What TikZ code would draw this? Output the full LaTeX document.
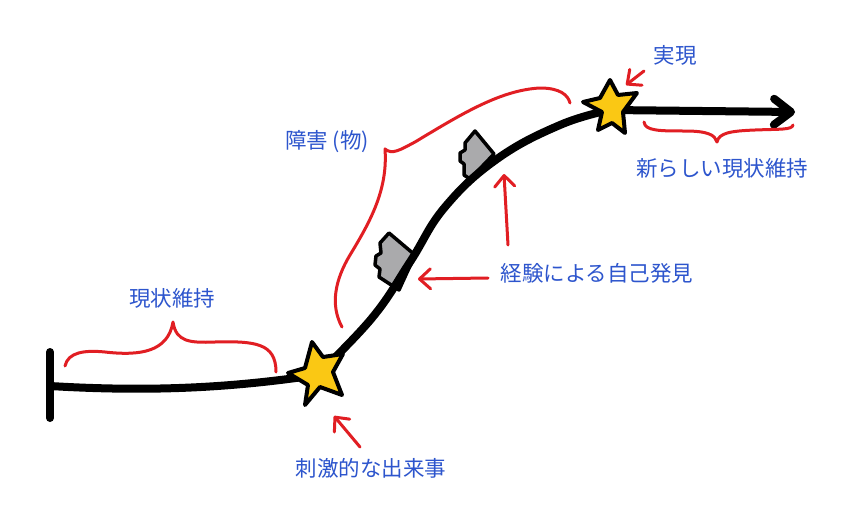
\documentclass[tikz,border=0pt]{standalone}
\usepackage{fontspec}
\newfontfamily\jpfont{Noto Sans CJK JP}
\usetikzlibrary{arrows.meta}
\definecolor{redpen}{RGB}{225,30,35}
\definecolor{bluetext}{RGB}{45,85,205}
\definecolor{staryellow}{RGB}{250,200,20}
\definecolor{blockgray}{RGB}{170,170,172}
\begin{document}
\begin{tikzpicture}[x=1pt,y=-1pt,
  mainline/.style={line width=8pt, line cap=round, line join=round, black},
  starshape/.style={draw=black, line width=4pt, line join=round, fill=staryellow},
  blockshape/.style={draw=black, line width=3.5pt, line join=round, fill=blockgray},
  redline/.style={draw=redpen, line width=3pt, line cap=round, line join=round},
  redarrow/.style={redline, -{Straight Barb[length=11pt,width=20pt,line cap=round,line join=round]}},
  jplabel/.style={text=bluetext, font=\jpfont\fontsize{21.5}{26}\selectfont, inner sep=0pt}
]
\fill[white] (0,0) rectangle (860,522);
\useasboundingbox (0,0) rectangle (860,522);

% key points
\coordinate (s1) at (317,375);
\coordinate (s2) at (610,110);
\coordinate (bartop) at (50,352);
\coordinate (barbot) at (50,418);
\coordinate (linestart) at (50,386);
\coordinate (arrowend) at (795,112);

% labels
\node[jplabel] (lblA) at (172,298) {現状維持};
\node[jplabel] (lblB) at (327,142) {障害 (物)};
\node[jplabel] (lblC) at (675,55) {実現};
\node[jplabel] (lblD) at (722,168) {新らしい現状維持};
\node[jplabel] (lblE) at (371,468) {刺激的な出来事};
\node[jplabel] (lblF) at (597,273) {経験による自己発見};

% obstacle blocks
\draw[blockshape] (389,233) -- (415,255) -- (399,290) -- (379,277) -- (380,269) -- (375,265) -- (376,256) -- (381,253) -- (380,243) -- cycle;
\draw[blockshape] (475,131) -- (494,154) -- (470,179) -- (464,175) -- (464,164) -- (460,161) -- (460,153) -- (465,150) -- (465,143) -- cycle;

% main path
\draw[mainline] (bartop) -- (barbot);
\draw[mainline] (linestart) .. controls (150,392) and (230,388) .. (s1);
\draw[mainline] plot[smooth, tension=0.7] coordinates {(s1) (372,318) (410,262) (445,207) (497,159) (560,125) (s2)};
\draw[mainline, -{Straight Barb[length=17pt,width=26pt,line cap=round,line join=round]}] (s2) -- (arrowend);

% stars
\draw[starshape] (312,342) -- (323,357) -- (343,354) -- (333,372) -- (342,395) -- (320,387) -- (305,405) -- (308,385) -- (288,373) -- (305,368) -- cycle;
\draw[starshape] (610,80) -- (618,95) -- (637,93) -- (623,112) -- (625,133) -- (612,123) -- (598,130) -- (602,112) -- (583,102) -- (600,98) -- cycle;

% braces
\draw[redline] (65,366) .. controls (68,352) and (85,350) .. (105,352) .. controls (140,356) and (168,352) .. (173,322) .. controls (176,342) and (190,343) .. (215,342) .. controls (255,341) and (276,343) .. (276,372);
\draw[redline] (342,327) .. controls (330,305) and (335,280) .. (350,255) .. controls (370,222) and (388,190) .. (385,149) .. controls (392,155) and (400,150) .. (415,142) .. controls (460,115) and (500,90) .. (540,88) .. controls (560,88) and (568,95) .. (570,103);
\draw[redline] (644,122) .. controls (645,131) and (660,131) .. (685,131) .. controls (708,131) and (715,135) .. (717,142) .. controls (719,133) and (730,131) .. (755,130) .. controls (780,129) and (792,130) .. (793,125);

% red arrows
\coordinate (aE1) at (360,447); \coordinate (aE2) at (334,416);
\coordinate (aC1) at (644,71);  \coordinate (aC2) at (626,85);
\coordinate (aF1) at (488,278); \coordinate (aF2) at (418,279);
\coordinate (aG1) at (508,245); \coordinate (aG2) at (504,174);
\draw[redarrow] (aE1) -- (aE2);
\draw[redarrow] (aC1) -- (aC2);
\draw[redarrow] (aF1) -- (aF2);
\draw[redarrow] (aG1) -- (aG2);
\end{tikzpicture}
\end{document}
